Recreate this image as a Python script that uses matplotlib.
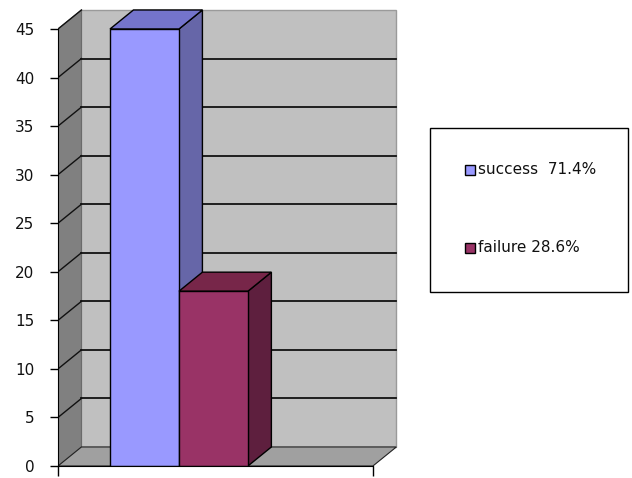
import matplotlib
matplotlib.use("Agg")
import matplotlib.pyplot as plt
from matplotlib.patches import Polygon, Rectangle

# ---- data ----
series = ["success", "failure"]
values = [45, 18]
y_ticks = [0, 5, 10, 15, 20, 25, 30, 35, 40, 45]

# ---- styles ----
front_cols = ["#9999FF", "#993366"]
side_cols = ["#6666A8", "#5E1F3E"]
top_cols = ["#7474CC", "#772649"]

W, H = 632, 478
fig = plt.figure(figsize=(W / 100, H / 100), dpi=100)
fig.patch.set_facecolor("white")

plt.rcParams["font.family"] = ["DejaVu Sans"]

xl, xr = -1.254, 3.312      # front plane extent (category axis)
dx, dy = 0.34, 1.96         # depth offset
ymax = y_ticks[-1]

ax = fig.add_axes([58 / W, (H - 466) / H, 341.8 / W, 47.2 * 9.711 / H])
ax.set_xlim(xl, xr + dx + 0.05)
ax.set_ylim(0, 47.2)
ax.set_facecolor("none")

# walls
back = Rectangle((xl + dx, dy), xr - xl, ymax, facecolor="#C0C0C0",
                 edgecolor="#9A9A9A", lw=1.0, zorder=1)
ax.add_patch(back)
side = Polygon([(xl, 0), (xl + dx, dy), (xl + dx, ymax + dy), (xl, ymax)],
               closed=True, facecolor="#808080", edgecolor="#6A6A6A", lw=0.8, zorder=1)
ax.add_patch(side)
floor = Polygon([(xl, 0), (xr, 0), (xr + dx, dy), (xl + dx, dy)],
                closed=True, facecolor="#A0A0A0", edgecolor="#222222", lw=0.8, zorder=1)
ax.add_patch(floor)

# gridlines
for t in y_ticks[1:]:
    if t < ymax:
        ax.plot([xl + dx, xr + dx], [t + dy, t + dy], color="#111111", lw=1.3, zorder=2)
    ax.plot([xl, xl + dx], [t, t + dy], color="#111111", lw=1.0, zorder=2)

# bars
for i, (v, fc, sc, tc) in enumerate(zip(values, front_cols, side_cols, top_cols)):
    z = 3 + i
    ax.add_patch(Polygon([(i + 0.5, 0), (i + 0.5 + dx, dy), (i + 0.5 + dx, v + dy), (i + 0.5, v)],
                         closed=True, facecolor=sc, edgecolor="black", lw=1.0, zorder=z))
    ax.add_patch(Polygon([(i - 0.5, v), (i - 0.5 + dx, v + dy), (i + 0.5 + dx, v + dy), (i + 0.5, v)],
                         closed=True, facecolor=tc, edgecolor="black", lw=1.0, zorder=z))
    ax.bar(i, v, width=1.0, color=fc, edgecolor="black", lw=1.0, zorder=z)

# axes / spines
for s in ["top", "right"]:
    ax.spines[s].set_visible(False)
ax.spines["left"].set_bounds(0, ymax)
ax.spines["bottom"].set_bounds(xl, xr)
ax.spines["left"].set_zorder(10)
ax.spines["bottom"].set_zorder(10)
ax.set_yticks(y_ticks)
ax.set_yticklabels([str(t) for t in y_ticks])
ax.set_xticks([xl, xr])
ax.set_xticklabels(["", ""])
ax.tick_params(axis="y", direction="out", length=6, width=1, pad=11, labelsize=11,
               labelcolor="#111111")
ax.tick_params(axis="x", direction="out", length=7.5, width=1)

# legend box (manual)
total = sum(values)
labels = [f"{s}  {v / total * 100:.1f}%" if i == 0 else f"{s} {v / total * 100:.1f}%"
          for i, (s, v) in enumerate(zip(series, values))]
fig.patches.append(Rectangle((430 / W, (H - 292) / H), 198 / W, 164 / H,
                             transform=fig.transFigure, facecolor="white",
                             edgecolor="black", lw=1.0))
ys = [170, 248]
for lab, fc, yp in zip(labels, front_cols, ys):
    fig.patches.append(Rectangle((465 / W, (H - yp - 5) / H), 10 / W, 10 / H,
                                 transform=fig.transFigure, facecolor=fc,
                                 edgecolor="black", lw=1.0))
    fig.text(478 / W, (H - yp) / H, lab, fontsize=11, va="center", ha="left",
             color="#111111")

fig.savefig("out.png", dpi=100)
